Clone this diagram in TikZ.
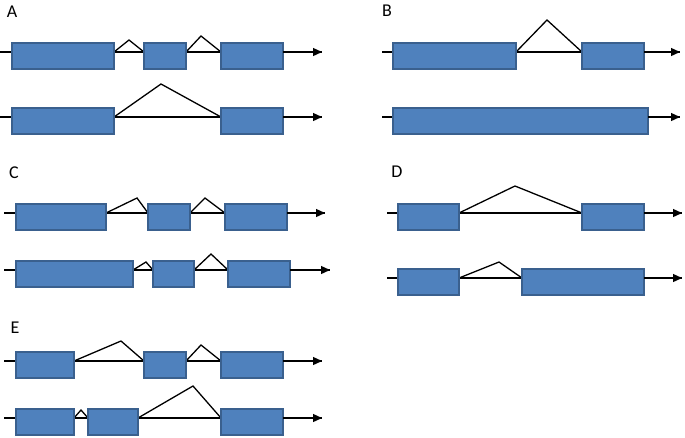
\documentclass[tikz,border=0pt]{standalone}
\usepackage{fontspec}
\setmainfont{Carlito}
\usetikzlibrary{arrows.meta}
\definecolor{exfill}{RGB}{79,129,189}
\definecolor{exedge}{RGB}{58,96,142}
\tikzset{
  exon/.style={draw=exedge, fill=exfill, line width=1.6pt, rectangle, inner sep=0pt, outer sep=0pt, minimum height=26pt, anchor=north west},
  bone/.style={draw=black, line width=1.3pt},
  splice/.style={draw=black, line width=1.3pt, line join=miter},
  tss/.style={bone, -{Triangle[length=9pt,width=8pt]}},
  panel/.style={font=\fontsize{18}{20}\selectfont, inner sep=0pt}
}
\newcommand\exon[4]{\node[exon, minimum width={#3-#2}] (#1) at (#2,#4-9) {};}
\begin{document}
\begin{tikzpicture}[x=1pt,y=-1pt]
\useasboundingbox (0,0) rectangle (685,437);
% labels
\node[panel] (lA) at (12,12) {A};
\node[panel] (lB) at (387,11) {B};
\node[panel] (lC) at (14,173) {C};
\node[panel] (lD) at (397,172) {D};
\node[panel] (lE) at (15,328) {E};

% ---------- A row 1
\coordinate (a1s) at (0,52); \coordinate (a1e) at (322,52);
\coordinate (a1p1) at (129,40); \coordinate (a1p2) at (201,36);
\draw[bone] (a1s) -- (a1e);
\draw[splice] (a1s -| 114,0) -- (a1p1) -- (a1s -| 144,0);
\draw[splice] (a1s -| 186,0) -- (a1p2) -- (a1s -| 221,0);
\exon{a1x1}{12}{114}{52}\exon{a1x2}{144}{186}{52}\exon{a1x3}{221}{283}{52}
\draw[tss] (a1s -| a1x3.east) -- (a1e);
% ---------- A row 2
\coordinate (a2s) at (0,117); \coordinate (a2e) at (322,117);
\coordinate (a2p1) at (161,84);
\draw[bone] (a2s) -- (a2e);
\draw[splice] (a2s -| 114,0) -- (a2p1) -- (a2s -| 221,0);
\exon{a2x1}{12}{114}{117}\exon{a2x2}{221}{283}{117}
\draw[tss] (a2s -| a2x2.east) -- (a2e);

% ---------- B row 1
\coordinate (b1s) at (382,52); \coordinate (b1e) at (680,52);
\coordinate (b1p1) at (547,20);
\draw[bone] (b1s) -- (b1e);
\draw[splice] (b1s -| 516,0) -- (b1p1) -- (b1s -| 582,0);
\exon{b1x1}{393}{516}{52}\exon{b1x2}{582}{644}{52}
\draw[tss] (b1s -| b1x2.east) -- (b1e);
% ---------- B row 2
\coordinate (b2s) at (382,117); \coordinate (b2e) at (680,117);
\draw[bone] (b2s) -- (b2e);
\exon{b2x1}{393}{648}{117}
\draw[tss] (b2s -| b2x1.east) -- (b2e);

% ---------- C row 1
\coordinate (c1s) at (4,213); \coordinate (c1e) at (325,213);
\coordinate (c1p1) at (137,198); \coordinate (c1p2) at (205,198);
\draw[bone] (c1s) -- (c1e);
\draw[splice] (c1s -| 106,0) -- (c1p1) -- (c1s -| 148,0);
\draw[splice] (c1s -| 190,0) -- (c1p2) -- (c1s -| 225,0);
\exon{c1x1}{16}{106}{213}\exon{c1x2}{148}{190}{213}\exon{c1x3}{225}{287}{213}
\draw[tss] (c1s -| c1x3.east) -- (c1e);
% ---------- C row 2
\coordinate (c2s) at (4,270); \coordinate (c2e) at (330,270);
\coordinate (c2p1) at (146,262); \coordinate (c2p2) at (211,254);
\draw[bone] (c2s) -- (c2e);
\draw[splice] (c2s -| 133,0) -- (c2p1) -- (c2s -| 153,0);
\draw[splice] (c2s -| 194,0) -- (c2p2) -- (c2s -| 228,0);
\exon{c2x1}{16}{133}{270}\exon{c2x2}{153}{194}{270}\exon{c2x3}{228}{290}{270}
\draw[tss] (c2s -| c2x3.east) -- (c2e);

% ---------- D row 1
\coordinate (d1s) at (387,213); \coordinate (d1e) at (682,213);
\coordinate (d1p1) at (515,186);
\draw[bone] (d1s) -- (d1e);
\draw[splice] (d1s -| 459,0) -- (d1p1) -- (d1s -| 582,0);
\exon{d1x1}{398}{459}{213}\exon{d1x2}{582}{644}{213}
\draw[tss] (d1s -| d1x2.east) -- (d1e);
% ---------- D row 2
\coordinate (d2s) at (387,278); \coordinate (d2e) at (682,278);
\coordinate (d2p1) at (499,262);
\draw[bone] (d2s) -- (d2e);
\draw[splice] (d2s -| 459,0) -- (d2p1) -- (d2s -| 522,0);
\exon{d2x1}{398}{459}{278}\exon{d2x2}{522}{644}{278}
\draw[tss] (d2s -| d2x2.east) -- (d2e);

% ---------- E row 1
\coordinate (e1s) at (4,361); \coordinate (e1e) at (322,361);
\coordinate (e1p1) at (121,341); \coordinate (e1p2) at (201,345);
\draw[bone] (e1s) -- (e1e);
\draw[splice] (e1s -| 74,0) -- (e1p1) -- (e1s -| 144,0);
\draw[splice] (e1s -| 186,0) -- (e1p2) -- (e1s -| 221,0);
\exon{e1x1}{16}{74}{361}\exon{e1x2}{144}{186}{361}\exon{e1x3}{221}{283}{361}
\draw[tss] (e1s -| e1x3.east) -- (e1e);
% ---------- E row 2
\coordinate (e2s) at (4,418); \coordinate (e2e) at (322,418);
\coordinate (e2p1) at (81,410); \coordinate (e2p2) at (193,386);
\draw[bone] (e2s) -- (e2e);
\draw[splice] (e2s -| 74,0) -- (e2p1) -- (e2s -| 88,0);
\draw[splice] (e2s -| 138,0) -- (e2p2) -- (e2s -| 221,0);
\exon{e2x1}{16}{74}{418}\exon{e2x2}{88}{138}{418}\exon{e2x3}{221}{283}{418}
\draw[tss] (e2s -| e2x3.east) -- (e2e);
\end{tikzpicture}
\end{document}
